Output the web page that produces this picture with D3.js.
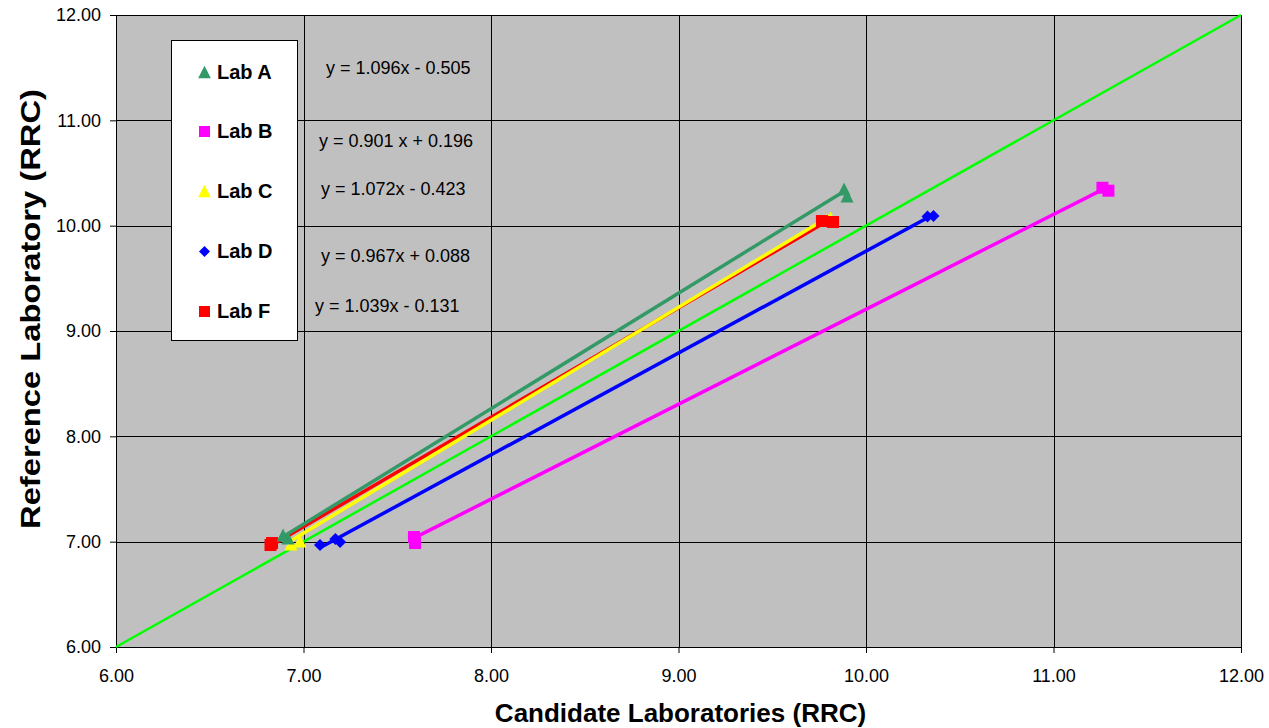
<!DOCTYPE html>
<html>
<head>
<meta charset="utf-8">
<script src="https://cdn.jsdelivr.net/npm/d3@7"></script>
<style>
  html, body { margin: 0; padding: 0; background: #ffffff; }
  svg { display: block; font-family: "Liberation Sans", Arial, sans-serif; }
</style>
</head>
<body>
<svg id="chart" width="1269" height="728"></svg>
<script>
// ---- data ----
const labs = ["Lab A", "Lab B", "Lab C", "Lab D", "Lab F"];
const labACandidate = [6.891, 6.917, 9.883, 9.899];
const labAReference = [7.063, 7.035, 10.348, 10.282];
const labBCandidate = [7.589, 7.595, 11.261, 11.293];
const labBReference = [7.044, 6.987, 10.360, 10.332];
const labCCandidate = [6.933, 6.981, 9.787, 9.811];
const labCReference = [6.978, 7.006, 10.054, 10.073];
const labDCandidate = [7.088, 7.170, 7.195, 10.328, 10.360];
const labDReference = [6.968, 7.025, 6.997, 10.087, 10.092];
const labFCandidate = [6.824, 6.832, 9.765, 9.824];
const labFReference = [6.968, 6.987, 10.044, 10.035];
const slopes = [1.096, 0.901, 1.072, 0.967, 1.039];
const intercepts = [-0.505, 0.196, -0.423, 0.088, -0.131];
const equationLabels = ["y = 1.096x - 0.505", "y = 0.901 x + 0.196", "y = 1.072x - 0.423", "y = 0.967x + 0.088", "y = 1.039x - 0.131"];
const identityLine = [6, 12];
const xTicks = [6, 7, 8, 9, 10, 11, 12];
const yTicks = [6, 7, 8, 9, 10, 11, 12];
const xTitle = "Candidate Laboratories (RRC)";
const yTitle = "Reference Laboratory (RRC)";

// ---- styles ----
const labColors = ["#339966", "#FF00FF", "#FFFF00", "#0000FF", "#FF0000"];
const labShapes = ["triangle", "square", "triangle", "diamond", "square"];
const lineOrder = [1, 3, 4, 2, 0];
const markerOrder = [1, 3, 2, 4, 0];
const eqPos = [[326, 74], [319, 147], [321, 195], [321, 262], [315, 312]];

const series = [
  [labACandidate, labAReference],
  [labBCandidate, labBReference],
  [labCCandidate, labCReference],
  [labDCandidate, labDReference],
  [labFCandidate, labFReference]
];

const svg = d3.select("#chart");
const L = 116, R = 1241, T = 15, B = 647;
const x = d3.scaleLinear().domain([6, 12]).range([L, R]);
const y = d3.scaleLinear().domain([6, 12]).range([B, T]);

// plot background
svg.append("rect").attr("x", L).attr("y", T).attr("width", R - L).attr("height", B - T).attr("fill", "#C0C0C0");

// gridlines
svg.append("g").selectAll("line").data(xTicks).join("line")
  .attr("x1", d => Math.round(x(d)) + 0.5).attr("x2", d => Math.round(x(d)) + 0.5)
  .attr("y1", T).attr("y2", B).attr("stroke", "#000").attr("stroke-width", 1);
svg.append("g").selectAll("line").data(yTicks).join("line")
  .attr("y1", d => Math.round(y(d)) + 0.5).attr("y2", d => Math.round(y(d)) + 0.5)
  .attr("x1", L).attr("x2", R).attr("stroke", "#000").attr("stroke-width", 1);

// axes
const xAxis = d3.axisBottom(x).tickValues(xTicks).tickFormat(d3.format(".2f")).tickSize(6).tickPadding(16);
const yAxis = d3.axisLeft(y).tickValues(yTicks).tickFormat(d3.format(".2f")).tickSize(6).tickPadding(9);
const gx = svg.append("g").attr("transform", `translate(0,${B})`).call(xAxis);
const gy = svg.append("g").attr("transform", `translate(${L},0)`).call(yAxis);
[gx, gy].forEach(g => {
  g.select(".domain").attr("stroke", "#000");
  g.selectAll(".tick line").attr("stroke", "#000");
  g.selectAll(".tick text").attr("fill", "#000").style("font-size", "18px")
    .style("font-family", "'Liberation Sans', Arial, sans-serif");
});

// identity line
svg.append("line")
  .attr("x1", x(identityLine[0])).attr("y1", y(identityLine[0]))
  .attr("x2", x(identityLine[1])).attr("y2", y(identityLine[1]))
  .attr("stroke", "#00FF00").attr("stroke-width", 2.5);

// marker path generator
function markerPath(shape, s) {
  const h = s / 2;
  if (shape === "triangle") return `M0,${-h}L${h},${h}L${-h},${h}Z`;
  if (shape === "square") return `M${-h},${-h}H${h}V${h}H${-h}Z`;
  return `M0,${-h}L${h},0L0,${h}L${-h},0Z`;
}
const markerSize = { triangle: 13, square: 12, diamond: 12 };

// trend lines
lineOrder.forEach(i => {
  const [cx] = series[i];
  const xmin = d3.min(cx), xmax = d3.max(cx);
  svg.append("line")
    .attr("x1", x(xmin)).attr("y1", y(slopes[i] * xmin + intercepts[i]))
    .attr("x2", x(xmax)).attr("y2", y(slopes[i] * xmax + intercepts[i]))
    .attr("stroke", labColors[i]).attr("stroke-width", 3.5);
});
// points
markerOrder.forEach(i => {
  const [cx, cy] = series[i];
  svg.append("g").selectAll("path").data(cx.map((v, k) => [v, cy[k]])).join("path")
    .attr("transform", d => `translate(${x(d[0])},${y(d[1])})`)
    .attr("d", markerPath(labShapes[i], markerSize[labShapes[i]]))
    .attr("fill", labColors[i]);
});

// legend
svg.append("rect").attr("x", 171.5).attr("y", 40.5).attr("width", 126).attr("height", 300)
  .attr("fill", "#fff").attr("stroke", "#000").attr("stroke-width", 1);
const legendRowY = [72, 131.5, 191, 251.5, 311.5];
labs.forEach((name, i) => {
  const sz = labShapes[i] === "triangle" ? 12.7 : 11;
  svg.append("path").attr("transform", `translate(204.5,${legendRowY[i]})`)
    .attr("d", markerPath(labShapes[i], sz)).attr("fill", labColors[i]);
  svg.append("text").attr("x", 217).attr("y", legendRowY[i] + 6.5)
    .attr("font-size", 20).attr("font-weight", "bold").attr("fill", "#000").text(name);
});

// equations
equationLabels.forEach((t, i) => {
  svg.append("text").attr("x", eqPos[i][0]).attr("y", eqPos[i][1])
    .attr("font-size", 18).attr("fill", "#000").text(t);
});

// axis titles
svg.append("text").attr("x", (L + R) / 2 + 2).attr("y", 722).attr("text-anchor", "middle")
  .attr("font-size", 26).attr("font-weight", "bold").attr("fill", "#000").text(xTitle);
svg.append("text").attr("transform", `translate(40,${(T + B) / 2 - 22}) rotate(-90)`)
  .attr("text-anchor", "middle").attr("font-size", 28).attr("font-weight", "bold").attr("fill", "#000")
  .attr("textLength", 440).attr("lengthAdjust", "spacingAndGlyphs").text(yTitle);
</script>
</body>
</html>
